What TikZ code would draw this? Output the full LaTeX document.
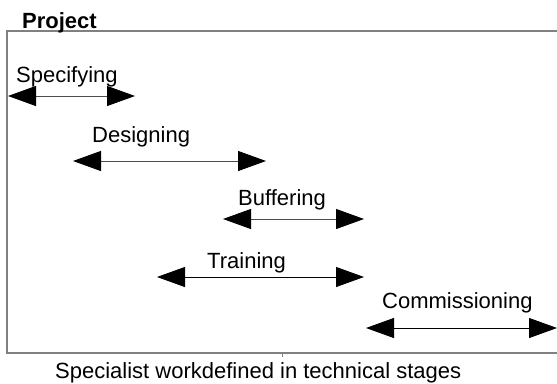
\documentclass[tikz,border=0pt]{standalone}
\usepackage{fontspec}
\setmainfont{Liberation Sans}
\usepackage{tikz}
\usetikzlibrary{arrows.meta}
\usetikzlibrary{positioning}

\tikzset{
  tip/.tip={Triangle[length=28pt,width=20pt,color=black]},
  stage/.style={black!70, line width=1pt, tip-tip},
  lbl/.style={anchor=base west, inner sep=0pt, font=\fontsize{22}{26}\selectfont}
}

\begin{document}
\begin{tikzpicture}[x=1pt,y=-1pt]
    \useasboundingbox (0,0) rectangle (557,383);
    % frame, open on the right
    \draw[black!50, line width=1.5pt] (560,31) -- (7,31) -- (7,353) -- (560,353);
    \draw[black!50] (282,353) -- (282,357);
    \node[lbl, font=\fontsize{22}{26}\selectfont\bfseries] (project) at (22,28) {Project};
    % stages
    \coordinate (specA) at (8,96);    \coordinate (specB) at (135,96);
    \coordinate (desA) at (73,161);   \coordinate (desB) at (266,161);
    \coordinate (bufA) at (223,219);  \coordinate (bufB) at (364,219);
    \coordinate (trainA) at (157,277); \coordinate (trainB) at (364,277);
    \coordinate (comA) at (366,328);  \coordinate (comB) at (557,328);
    \draw[stage] (specA) -- (specB);
    \draw[stage] (desA) -- (desB);
    \draw[stage] (bufA) -- (bufB);
    \draw[stage, black] (trainA) -- (trainB);
    \draw[stage, black] (comA) -- (comB);
    \node[lbl] (spec) at (16,82) {Specifying};
    \node[lbl] (des) at (92,142) {Designing};
    \node[lbl] (buf) at (238,205) {Buffering};
    \node[lbl] (train) at (207,268) {Training};
    \node[lbl] (com) at (382,308) {Commissioning};
    \node[lbl] (caption) at (55,378) {Specialist workdefined in technical stages};
\end{tikzpicture}
\end{document}
